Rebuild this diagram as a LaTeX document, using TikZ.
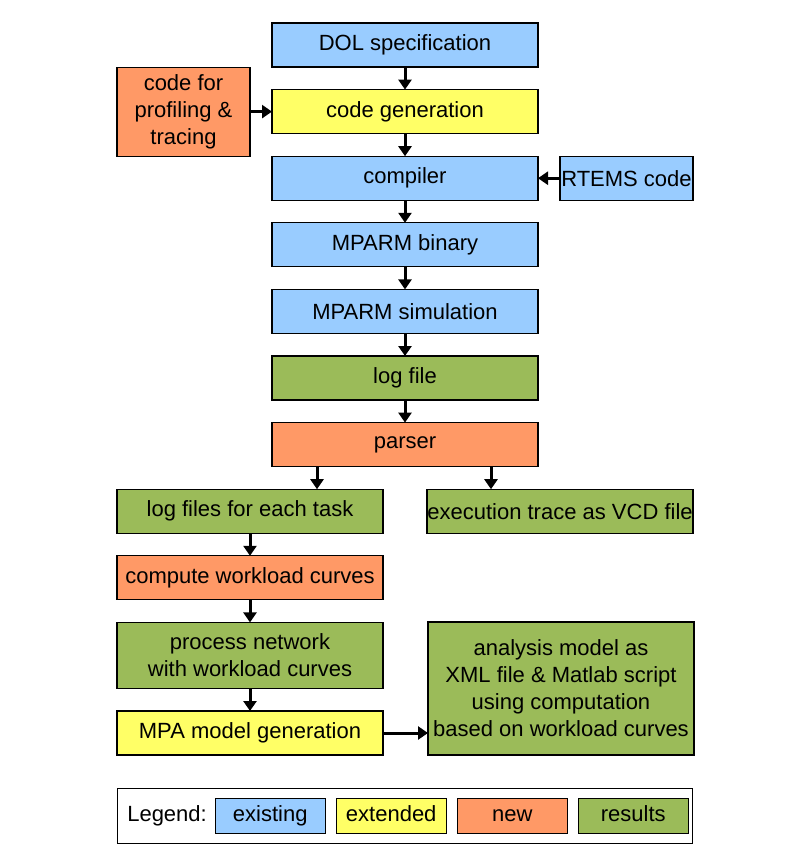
\documentclass[tikz,border=0pt]{standalone}
\usepackage{fontspec}
\setmainfont{Liberation Sans}
\usetikzlibrary{arrows.meta,positioning}
\definecolor{colexist}{HTML}{99CCFF}
\definecolor{colext}{HTML}{FFFF66}
\definecolor{colnew}{HTML}{FF9966}
\definecolor{colres}{HTML}{9BBB59}

\begin{document}
\begin{tikzpicture}[>={Triangle[length=5pt,width=6.5pt]},node distance=11.3pt,
    font=\fontsize{11}{13.5}\selectfont,
    box/.style={draw, line width=0.6pt, minimum width=133pt, minimum height=22pt,
      inner sep=0pt, outer sep=0pt, align=center},
    small/.style={minimum width=66.5pt},
    existbox/.style={box, fill=colexist},
    extbox/.style={box, fill=colext},
    newbox/.style={box, fill=colnew},
    resbox/.style={box, fill=colres},
    legendkey/.style={minimum width=55pt, minimum height=17.5pt, text height=8pt, text depth=2.4pt},
    flow/.style={->, line width=1.5pt}]
        \useasboundingbox (0,0) rectangle (396.5pt,-429.5pt);

        % tool chain
        \node[existbox] (dol) at (202.5pt,-22.5pt) {DOL specification};
        \node[extbox, below=of dol] (codegen) {code generation};
        \node[newbox, small, minimum height=44.5pt, left=11pt of codegen] (profiling) {code for\\profiling \&\\tracing};
        \node[existbox, below=of codegen] (compiler) {compiler};
        \node[existbox, small, right=11pt of compiler] (rtems) {RTEMS code};
        \node[existbox, below=of compiler] (binary) {MPARM binary};
        \node[existbox, below=of binary] (sim) {MPARM simulation};
        \node[resbox, below=of sim] (logfile) {log file};
        \node[newbox, below=of logfile] (parser) {parser};

        % analysis part
        \node[resbox, anchor=north west] (tasklogs) at ([xshift=-77.5pt,yshift=-11.3pt]parser.south west) {log files for each task};
        \node[resbox, anchor=north east] (vcd) at ([xshift=77.5pt,yshift=-11.3pt]parser.south east) {execution trace as VCD file};
        \node[newbox, below=of tasklogs] (workload) {compute workload curves};
        \node[resbox, minimum height=33pt, below=of workload] (network) {process network\\with workload curves};
        \node[extbox, below=of network] (mpa) {MPA model generation};
        \node[resbox, minimum height=66.5pt, anchor=south west] (analysis) at ([xshift=22.5pt]mpa.south east) {analysis model as\\XML file \& Matlab script\\using computation\\based on workload curves};

        \path[flow] (dol) edge (codegen)
                    (codegen) edge (compiler)
                    (profiling) edge (codegen)
                    (rtems) edge (compiler)
                    (compiler) edge (binary)
                    (binary) edge (sim)
                    (sim) edge (logfile)
                    (logfile) edge (parser)
                    (tasklogs) edge (workload)
                    (workload) edge (network)
                    (network) edge (mpa);
        \draw[flow] ([xshift=-44pt]parser.south) -- ([xshift=-44pt]parser.south |- tasklogs.north);
        \draw[flow] ([xshift=43pt]parser.south) -- ([xshift=43pt]parser.south |- vcd.north);
        \draw[flow] (mpa.east) -- (mpa.east -| analysis.west);

        % legend
        \node[draw, line width=0.6pt, minimum width=287.5pt, minimum height=27.5pt, anchor=north] (legend) at ([yshift=-16.5pt]mpa.south -| dol) {};
        \node[anchor=west, inner sep=0pt] (legendlabel) at ([xshift=5pt]legend.west) {Legend:};
        \node[existbox, legendkey, right=4pt of legendlabel] (keyexist) {existing};
        \node[extbox, legendkey, right=5.5pt of keyexist] (keyext) {extended};
        \node[newbox, legendkey, right=5.5pt of keyext] (keynew) {new};
        \node[resbox, legendkey, right=5.5pt of keynew] (keyres) {results};
\end{tikzpicture}
\end{document}
